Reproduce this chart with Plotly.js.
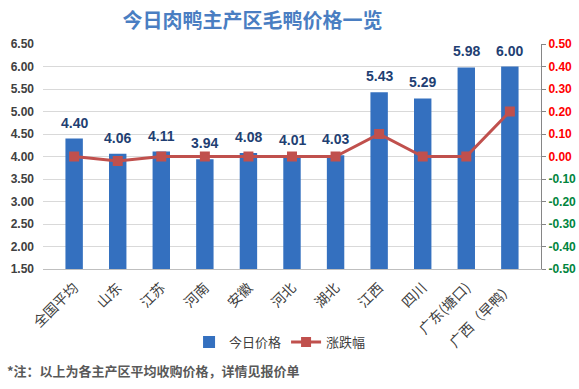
<!DOCTYPE html>
<html><head><meta charset="utf-8">
<script src="https://cdn.plot.ly/plotly-3.0.1.min.js"></script>
<style>html,body{margin:0;padding:0;background:#fff}#c{width:579px;height:389px}</style>
</head><body><div id="c"></div>
<script>
const categories = ['全国平均','山东','江苏','河南','安徽','河北','湖北','江西','四川','广东(塘口)','广西（早鸭）'];
const prices = [4.40, 4.06, 4.11, 3.94, 4.08, 4.01, 4.03, 5.43, 5.29, 5.98, 6.00];
const changes = [0.00, -0.02, 0.00, 0.00, 0.00, 0.00, 0.00, 0.10, 0.00, 0.00, 0.20];
const rightTicks = [-0.5,-0.4,-0.3,-0.2,-0.1,0,0.1,0.2,0.3,0.4,0.5];
const seriesNames = ['今日价格','涨跌幅'];
const titleText = '今日肉鸭主产区毛鸭价格一览';
const noteText = '*注：以上为各主产区平均收购价格，详情见报价单';

const FONT = 'Liberation Sans, Noto Sans CJK SC, sans-serif';
const CJK = 'Noto Sans CJK SC, sans-serif';

const rightText = rightTicks.map(v => {
  const c = v < 0 ? '#00853e' : '#ff0000';
  return '<span style="color:' + c + '">' + v.toFixed(2) + '</span>';
});

const traces = [
  {type:'bar', x:categories, y:prices, name:seriesNames[0],
   marker:{color:'#3470bf'}, width:0.4, hoverinfo:'none'},
  {type:'scatter', mode:'lines+markers', x:categories, y:changes, name:seriesNames[1], yaxis:'y2',
   line:{color:'#c0504d', width:3}, marker:{symbol:'square', size:10, color:'#c0504d'}, hoverinfo:'none'}
];

const annotations = prices.map((p,i) => ({
  x:categories[i], y:p, xref:'x', yref:'y', text:p.toFixed(2), showarrow:false,
  yshift:16, font:{family:FONT, size:14, color:'#1f3f73', weight:'bold'}
}));
annotations.push({text:noteText, xref:'paper', yref:'paper', x:-0.076, y:-0.45,
  xanchor:'left', yanchor:'middle', showarrow:false,
  font:{family:CJK, size:13, color:'#595959', weight:'bold'}});

const layout = {
  width:579, height:389,
  margin:{l:43, r:38, t:44, b:120},
  paper_bgcolor:'#fff', plot_bgcolor:'#fff',
  showlegend:true,
  legend:{orientation:'h', x:0.476, xanchor:'center', y:-0.325, yanchor:'middle',
    font:{family:CJK, size:13, color:'#404040'}, itemwidth:30, tracegroupgap:0},
  title:{text:titleText, x:0.436, xref:'container', xanchor:'center', y:0.946, yref:'container', yanchor:'middle',
    font:{family:CJK, size:20, color:'#4a7ec2', weight:'bold'}},
  xaxis:{type:'category', tickangle:-45, tickfont:{family:CJK, size:14, color:'#404040'},
    showline:true, linecolor:'#bfbfbf', linewidth:1, ticks:'', showgrid:false, zeroline:false, ticklabelstandoff:4},
  yaxis:{range:[1.5,6.5], dtick:0.5, tick0:1.5, tickformat:'.2f', showgrid:true, gridcolor:'#d9d9d9',
    zeroline:false, showline:false, ticks:'', ticklabelstandoff:8,
    tickfont:{family:FONT, size:12, color:'#404040', weight:'bold'}},
  yaxis2:{overlaying:'y', side:'right', range:[-0.5,0.5], tickmode:'array', tickvals:rightTicks, ticktext:rightText,
    showgrid:false, zeroline:false, showline:true, linecolor:'#868686', linewidth:1,
    ticks:'outside', ticklen:4, tickcolor:'#868686',
    tickfont:{family:FONT, size:12, weight:'bold'}},
  annotations:annotations,
  bargap:0.6
};
Plotly.newPlot('c', traces, layout, {staticPlot:true, displayModeBar:false});
</script></body></html>
